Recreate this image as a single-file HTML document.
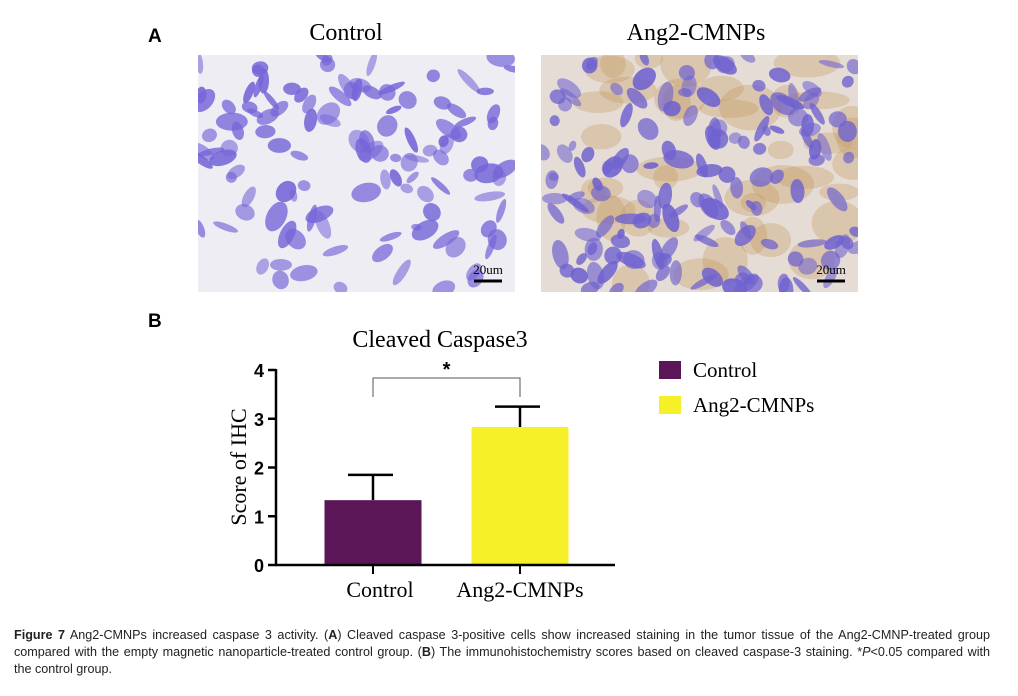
<!DOCTYPE html>
<html><head><meta charset="utf-8">
<style>
html,body{margin:0;padding:0;background:#fff;}
body{width:1018px;height:696px;position:relative;overflow:hidden;font-family:"Liberation Sans",sans-serif;}
#caption{position:absolute;left:14px;top:627px;width:976px;font-size:12.6px;line-height:17px;color:#222;}
#caption .ln{text-align:justify;text-align-last:justify;white-space:nowrap;}
#caption .ln.last{text-align-last:left;}
</style></head>
<body>
<svg id="fig" width="1018" height="620" style="position:absolute;left:0;top:0">
  <text x="148" y="42" font-family="Liberation Sans" font-weight="bold" font-size="19">A</text>
  <text x="346" y="40" text-anchor="middle" font-family="Liberation Serif" font-size="24">Control</text>
  <text x="696" y="40" text-anchor="middle" font-family="Liberation Serif" font-size="24">Ang2-CMNPs</text>
  <g id="img1"></g>
  <g id="img2"></g>
  <text x="148" y="327" font-family="Liberation Sans" font-weight="bold" font-size="19">B</text>
  <text x="440" y="347" text-anchor="middle" font-family="Liberation Serif" font-size="24">Cleaved Caspase3</text>
  <text transform="translate(246,467) rotate(-90)" text-anchor="middle" font-family="Liberation Serif" font-size="22">Score of IHC</text>
  <g id="chart"></g>
  <rect x="659" y="361" width="22" height="18" fill="#5a1657"/>
  <text x="693" y="377" font-family="Liberation Serif" font-size="21">Control</text>
  <rect x="659" y="396" width="22" height="18" fill="#f5f028"/>
  <text x="693" y="412" font-family="Liberation Serif" font-size="21">Ang2-CMNPs</text>
</svg>
<div id="caption">
<div class="ln"><b>Figure 7</b> Ang2-CMNPs increased caspase 3 activity. (<b>A</b>) Cleaved caspase 3-positive cells show increased staining in the tumor tissue of the Ang2-CMNP-treated group</div>
<div class="ln">compared with the empty magnetic nanoparticle-treated control group. (<b>B</b>) The immunohistochemistry scores based on cleaved caspase-3 staining. *<i>P</i>&lt;0.05 compared with</div>
<div class="ln last">the control group.</div>
</div>
<script>
const categories = ["Control", "Ang2-CMNPs"];
const means = [1.33, 2.83];
const errTops = [1.85, 3.25];
const yTicks = [0, 1, 2, 3, 4];
const colors = ["#5a1657", "#f5f028"];

const NS = "http://www.w3.org/2000/svg";
function mk(tag, attrs, parent){const e=document.createElementNS(NS,tag);for(const k in attrs)e.setAttribute(k,attrs[k]);parent.appendChild(e);return e;}
const y = v => 565 - v * 48.75;
const xc = i => 373 + i * 147;
const bw = 97;
const chart = document.getElementById('chart');

yTicks.forEach(t=>{
  const l = mk('line',{x1:268,x2:276,y1:y(t),y2:y(t),stroke:'#000','stroke-width':2.5},chart);
  
  
  const tx = mk('text',{x:264,y:y(t)+7,'text-anchor':'end','font-family':'Liberation Sans','font-weight':'bold','font-size':18},chart);
  tx.textContent = t;
  
  
});
categories.forEach((c,i)=>{
  const cx = xc(i);
  const el = mk('line',{x1:cx,x2:cx,y1:y(errTops[i]),y2:y(means[i]),stroke:'#000','stroke-width':2.5},chart);
  
  
  const cap = mk('line',{x1:cx-25,x2:cx+20,y1:y(errTops[i]),y2:y(errTops[i]),stroke:'#000','stroke-width':2.5},chart);
  
  
  const r = mk('rect',{x:cx-bw/2,y:y(means[i]),width:bw,height:y(0)-y(means[i]),fill:colors[i]},chart);
  
  
  const tk = mk('line',{x1:cx,x2:cx,y1:565,y2:574,stroke:'#000','stroke-width':2},chart);
  
  
  const lb = mk('text',{x:cx+(i===0?7:0),y:597,'text-anchor':'middle','font-family':'Liberation Serif','font-size':22},chart);
  lb.textContent = c;
  
  
});
const ax = mk('line',{x1:276,x2:276,y1:369,y2:566,stroke:'#000','stroke-width':2.5},chart);


const xa = mk('line',{x1:275,x2:615,y1:565,y2:565,stroke:'#000','stroke-width':2.5},chart);


const br = mk('polyline',{points:`${xc(0)},397 ${xc(0)},378 ${xc(1)},378 ${xc(1)},397`,fill:'none',stroke:'#555','stroke-width':1},chart);


const st = mk('text',{x:(xc(0)+xc(1))/2,y:376,'text-anchor':'middle','font-family':'Liberation Sans','font-weight':'bold','font-size':20},chart);
st.textContent='*';



// decorative micrograph texture (seeded, not chart data)
function micro(g, x0, brown, seed){
  let s = seed;
  const rnd = () => { s = (s * 1103515245 + 12345) % 2147483648; return s / 2147483648; };
  mk('rect',{x:x0,y:55,width:317,height:237,fill:brown?'#e6dcd6':'#eeedf3'},g);
  const clip = 'c'+seed;
  const cp = mk('clipPath',{id:clip},g);
  mk('rect',{x:x0,y:55,width:317,height:237},cp);
  const inner = mk('g',{'clip-path':`url(#${clip})`},g);
  if(brown){
    for(let i=0;i<40;i++){
      mk('ellipse',{cx:x0+rnd()*317,cy:55+rnd()*237,rx:12+rnd()*22,ry:8+rnd()*16,fill:'#c49a62',opacity:0.35},inner);
    }
  }
  const n = brown ? 150 : 120;
  for(let i=0;i<n;i++){
    const cx = x0+rnd()*317, cy = 55+rnd()*237;
    const rx = 5+rnd()*11, ry = 3+rnd()*7, a = rnd()*180;
    mk('ellipse',{cx:cx,cy:cy,rx:rx,ry:ry,fill:brown?'#6f62cf':'#7566d8',opacity:0.55+rnd()*0.35,transform:`rotate(${a} ${cx} ${cy})`},inner);
  }
  mk('line',{x1:x0+276,x2:x0+304,y1:281,y2:281,stroke:'#000','stroke-width':3},g);
  const t = mk('text',{x:x0+290,y:274,'text-anchor':'middle','font-family':'Liberation Serif','font-size':13},g);
  t.textContent='20um';
  
  
}
micro(document.getElementById('img1'),198,false,7);
micro(document.getElementById('img2'),541,true,19);
</script>
</body></html>
